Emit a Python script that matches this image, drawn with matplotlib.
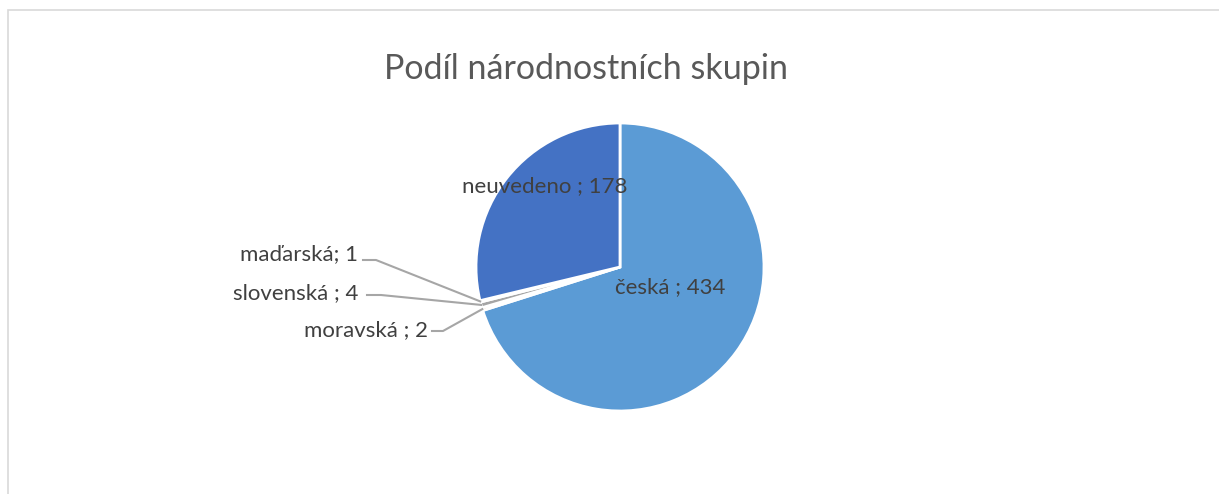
import matplotlib.pyplot as plt
import numpy as np
from matplotlib.patches import Rectangle

labels = ['česká', 'moravská', 'slovenská', 'maďarská', 'neuvedeno']
values = [434, 2, 4, 1, 178]
texts = ['česká ; 434', 'moravská ; 2', 'slovenská ; 4', 'maďarská; 1', 'neuvedeno ; 178']
colors = ['#5B9BD5', '#ED7D31', '#A5A5A5', '#FFC000', '#4472C4']

plt.rcParams['font.family'] = ['Lato', 'DejaVu Sans']

W, H = 1219, 494
fig = plt.figure(figsize=(W / 100, H / 100), dpi=100)
ax = fig.add_axes([0, 0, 1, 1])

# chart frame
ax.add_patch(Rectangle((7.5, -10), W, H - 10 + 10 - 0.5, fill=False, ec='#D9D9D9', lw=1.2))

cx, cy, r = 620, H - 267, 144
wedges, _ = ax.pie(values, colors=colors, startangle=90, counterclock=False,
                   center=(cx, cy), radius=r, frame=True,
                   wedgeprops=dict(edgecolor='white', linewidth=2))
ax.set_xlim(0, W)
ax.set_ylim(0, H)
ax.set_aspect('equal')
ax.axis('off')

ax.text(586, H - 69, 'Podíl národnostních skupin', ha='center', va='center',
        fontsize=24.5, color='#595959')

tc = '#404040'
fs = 16
# inside labels
ax.text(545, H - 186, texts[4], ha='center', va='center', fontsize=fs, color=tc)
ax.text(670, H - 287, texts[0], ha='center', va='center', fontsize=fs, color=tc)

# outside labels with leader lines
outside = [(3, 358, 254, 363, 376, 260), (2, 358, 293, 367, 381, 295), (1, 428, 330, 432, 443, 331)]
for i, tx, ty, x0, x1, ly in outside:
    w = wedges[i]
    ang = np.deg2rad((w.theta1 + w.theta2) / 2)
    px, py = cx + r * np.cos(ang), cy + r * np.sin(ang)
    ax.text(tx, H - ty, texts[i], ha='right', va='center', fontsize=fs, color=tc)
    ax.plot([x0, x1, px], [H - ly, H - ly, py], color='#A6A6A6', lw=1.5)

fig.savefig('out.png', dpi=100, facecolor='white')
